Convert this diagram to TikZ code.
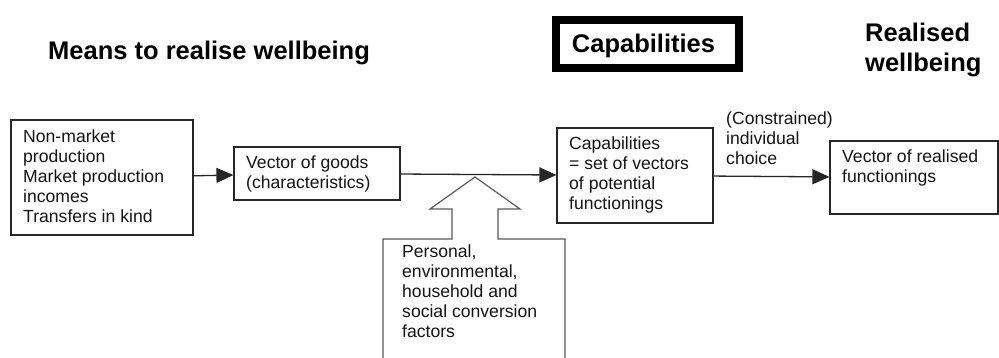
\documentclass[tikz,border=0pt]{standalone}
\usepackage{fontspec}
\setmainfont{Liberation Sans}
\usetikzlibrary{arrows.meta}
\newcommand{\lines}[2]{\parbox[t]{#1pt}{\raggedright #2}}
\begin{document}
\begin{tikzpicture}[x=1pt,y=-1pt,
  boxnode/.style={draw=black!85, line width=1.2pt, inner sep=0pt},
  body/.style={inner sep=0pt, anchor=base west, font=\fontsize{17.6}{20}\selectfont, text=black!92},
  heading/.style={inner sep=0pt, font=\bfseries\fontsize{25.5}{30}\selectfont},
  flow/.style={draw=black!85, line width=1.3pt, -{Triangle[length=17pt,width=15pt]}},
  hollow/.style={draw=black!65, line width=1.2pt, line join=miter}]
\useasboundingbox (0,0) rectangle (999,358);

% headings
\node[heading, anchor=base west] (means) at (48,60) {Means to realise wellbeing};
\node[draw=black, line width=8pt, minimum width=183pt, minimum height=48pt, inner sep=0pt] (capbox) at (647.5,44) {};
\node[heading, anchor=base] (captitle) at (643.5,53) {Capabilities};
\node[heading, anchor=base west] (realised) at (865,42) {\lines{130}{Realised\\wellbeing}};

% boxes
\node[boxnode, minimum width=182pt, minimum height=115pt] (b1) at (102,177.5) {};
\node[boxnode, minimum width=166pt, minimum height=53pt] (b2) at (317,173.5) {};
\node[boxnode, minimum width=156pt, minimum height=95pt] (b3) at (635,175.5) {};
\node[boxnode, minimum width=168pt, minimum height=73pt] (b4) at (914,177.5) {};

% box texts
\node[body] (t1) at (23,143) {\lines{175}{Non-market\\production\\Market production\\incomes\\Transfers in kind}};
\node[body] (t2) at (246,169) {\lines{150}{Vector of goods\\(characteristics)}};
\node[body] (t3) at (569,150) {\lines{140}{Capabilities\\= set of vectors\\of potential\\functionings}};
\node[body] (t4) at (842,163) {\lines{150}{Vector of realised\\functionings}};
\node[body] (choice) at (726,125) {\lines{120}{(Constrained)\\individual\\choice}};
\node[body] (factors) at (402,258) {\lines{160}{Personal,\\environmental,\\household and\\social conversion\\factors}};

% connectors
\draw[flow] (b1) -- (b2);
\draw[flow] (b2) -- (b3);
\draw[flow] (b3) -- (b4);

% hollow block arrow of conversion factors
\draw[hollow] (383,358) -- (383,239) -- (452,239) -- (452,209) -- (430,209) -- (475,177)
  -- (520,209) -- (498,209) -- (498,239) -- (565,239) -- (565,358);
\end{tikzpicture}
\end{document}
